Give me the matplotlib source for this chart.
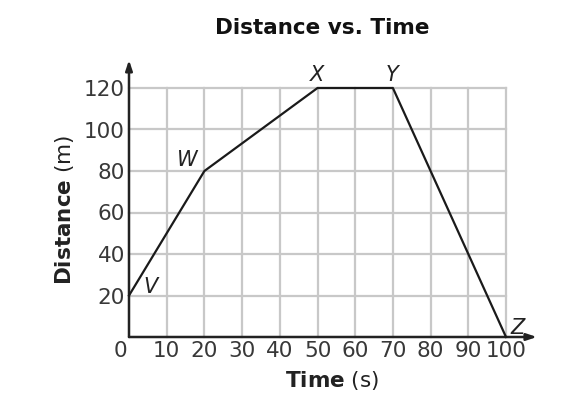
import matplotlib
matplotlib.use("Agg")
import matplotlib.pyplot as plt

# Data
times = [0, 20, 50, 70, 100]
distances = [20, 80, 120, 120, 0]
point_labels = ["V", "W", "X", "Y", "Z"]
label_pos = [(5.6, 24), (15.4, 85.5), (49.9, 126.5), (69.8, 126.5), (103, 4.5)]
x_ticks = [10, 20, 30, 40, 50, 60, 70, 80, 90, 100]
y_ticks = [20, 40, 60, 80, 100, 120]

fig = plt.figure(figsize=(5.61, 4.0), dpi=100)
ax = fig.add_axes([129/561, 1-337/400, (506-129)/561, (337-88)/400])
ax.set_xlim(0, 100)
ax.set_ylim(0, 120)

for s in ax.spines.values():
    s.set_visible(False)

grid_c = "#c8c8c8"
for xv in x_ticks:
    ax.plot([xv, xv], [0, 120], color=grid_c, lw=1.6, zorder=1, clip_on=False)
for yv in y_ticks:
    ax.plot([0, 100], [yv, yv], color=grid_c, lw=1.6, zorder=1, clip_on=False)

# axes arrows
ax.annotate("", xy=(0, 133.5), xytext=(0, 0), annotation_clip=False,
            arrowprops=dict(arrowstyle="-|>,head_length=0.6,head_width=0.2", color="#222222", lw=1.8,
                            shrinkA=0, shrinkB=0), zorder=3)
ax.annotate("", xy=(108.2, 0), xytext=(0, 0), annotation_clip=False,
            arrowprops=dict(arrowstyle="-|>,head_length=0.6,head_width=0.2", color="#222222", lw=1.8,
                            shrinkA=0, shrinkB=0), zorder=3)

ax.plot(times, distances, color="#1a1a1a", lw=1.6, zorder=4, clip_on=False)

for lab, (lx, ly) in zip(point_labels, label_pos):
    ax.text(lx, ly, lab, fontsize=15, style="italic", ha="center", va="center",
            color="#222222", zorder=5)

ax.set_xticks(x_ticks)
ax.set_yticks(y_ticks)
ax.set_xticklabels([str(v) for v in x_ticks])
ax.set_yticklabels([str(v) for v in y_ticks])
ax.tick_params(length=0, labelsize=15.5, colors="#383838", pad=3)
ax.tick_params(axis="y", pad=3)
ax.text(-2.4, -1.8, "0", fontsize=15.5, color="#383838", ha="center", va="top")

fig.text(332/561, 1-381/400, r"$\bf{Time}$ (s)", fontsize=15.5, ha="center", va="center", color="#222222")
fig.text(65/561, 1-210/400, r"$\bf{Distance}$ (m)", fontsize=15.5, ha="center", va="center",
         rotation=90, color="#222222")
fig.text(322/561, 1-28/400, "Distance vs. Time", fontsize=15.5, fontweight="bold",
         ha="center", va="center", color="#111111")

fig.savefig("out.png", dpi=100, facecolor="white")
